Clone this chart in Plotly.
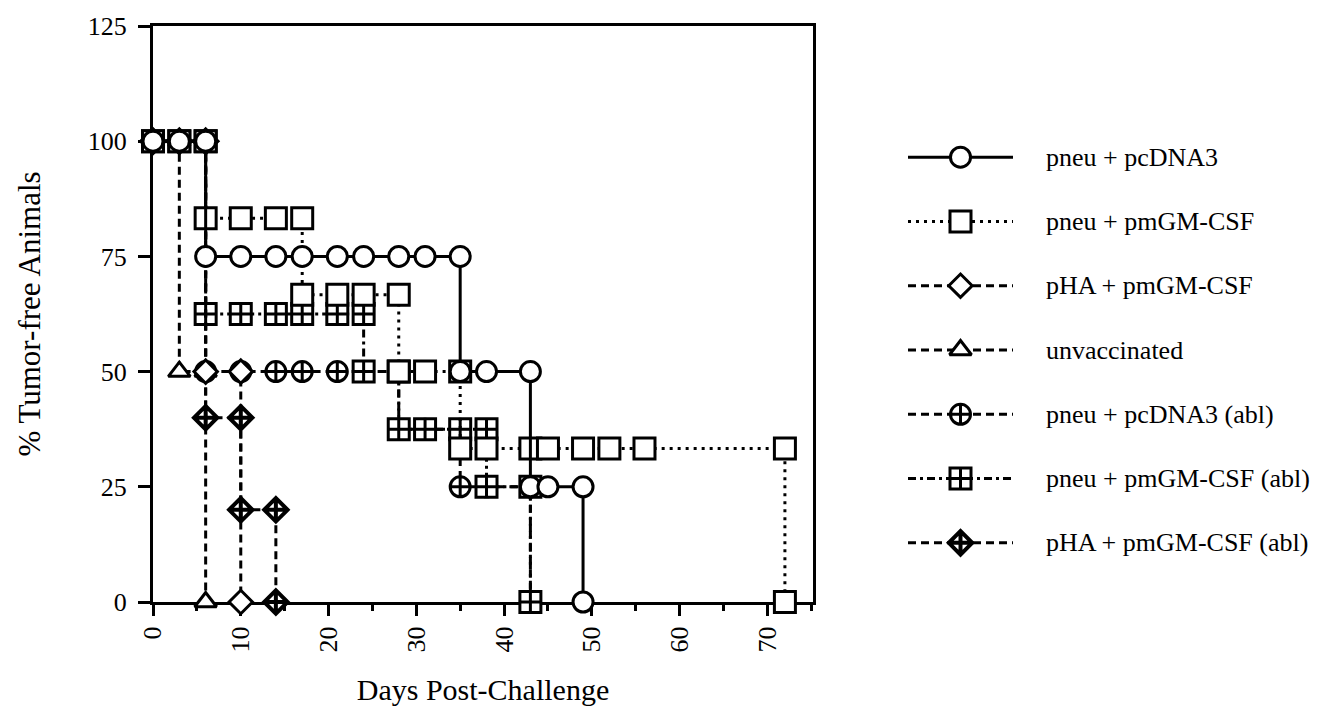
import plotly.graph_objects as go

# ---------------- data ----------------
series_names = [
    "pneu + pcDNA3",
    "pneu + pmGM-CSF",
    "pHA + pmGM-CSF",
    "unvaccinated",
    "pneu + pcDNA3 (abl)",
    "pneu + pmGM-CSF (abl)",
    "pHA + pmGM-CSF (abl)",
]

days_pcdna3 = [0, 3, 6, 6, 10, 14, 17, 21, 24, 28, 31, 35, 35, 38, 43, 43, 45, 49, 49]
pct_pcdna3 = [100, 100, 100, 75, 75, 75, 75, 75, 75, 75, 75, 75, 50, 50, 50, 25, 25, 25, 0]

days_gmcsf = [0, 3, 6, 6, 10, 14, 17, 17, 21, 24, 28, 28, 31, 35, 35, 38, 43, 45, 49, 52, 56, 72, 72]
pct_gmcsf = [100, 100, 100, 83.3, 83.3, 83.3, 83.3, 66.7, 66.7, 66.7, 66.7, 50, 50, 50,
             33.3, 33.3, 33.3, 33.3, 33.3, 33.3, 33.3, 33.3, 0]

days_pha = [0, 3, 6, 6, 10, 10]
pct_pha = [100, 100, 100, 50, 50, 0]

days_unvac = [0, 3, 3, 6, 6]
pct_unvac = [100, 100, 50, 50, 0]

days_pcdna3_abl = [0, 3, 6, 6, 10, 14, 17, 21, 24, 28, 28, 31, 35, 35, 38, 43, 43]
pct_pcdna3_abl = [100, 100, 100, 50, 50, 50, 50, 50, 50, 50, 37.5, 37.5, 37.5, 25, 25, 25, 0]

days_gmcsf_abl = [0, 3, 6, 6, 10, 14, 17, 21, 24, 24, 28, 28, 31, 35, 38, 38, 43, 43]
pct_gmcsf_abl = [100, 100, 100, 62.5, 62.5, 62.5, 62.5, 62.5, 62.5, 50, 50, 37.5, 37.5,
                 37.5, 37.5, 25, 25, 0]

days_pha_abl = [0, 3, 6, 6, 10, 10, 14, 14]
pct_pha_abl = [100, 100, 100, 40, 40, 20, 20, 0]

x_ticks = [0, 10, 20, 30, 40, 50, 60, 70]
y_ticks = [0, 25, 50, 75, 100, 125]

# ---------------- styles ----------------
W, H = 1337, 719
FONT = "Liberation Serif, Times New Roman, serif"
BLACK = "#000000"

DASH = "8px,5px"
DOT = "3px,5px"
DASHDOT = "8px,4px,3px,4px"

styles = {
    "pneu + pcDNA3": dict(symbol="circle", dash="solid", size=20, mlw=3),
    "pneu + pmGM-CSF": dict(symbol="square", dash=DOT, size=21, mlw=3),
    "pHA + pmGM-CSF": dict(symbol="diamond", dash=DASH, size=18, mlw=3),
    "unvaccinated": dict(symbol="triangle-up", dash=DASH, size=19, mlw=3),
    "pneu + pcDNA3 (abl)": dict(symbol="circle-cross", dash=DASH, size=20, mlw=3),
    "pneu + pmGM-CSF (abl)": dict(symbol="square-cross", dash=DASHDOT, size=21, mlw=3),
    "pHA + pmGM-CSF (abl)": dict(symbol="diamond-cross", dash=DASH, size=18, mlw=4),
}

data = {
    "pneu + pcDNA3": (days_pcdna3, pct_pcdna3),
    "pneu + pmGM-CSF": (days_gmcsf, pct_gmcsf),
    "pHA + pmGM-CSF": (days_pha, pct_pha),
    "unvaccinated": (days_unvac, pct_unvac),
    "pneu + pcDNA3 (abl)": (days_pcdna3_abl, pct_pcdna3_abl),
    "pneu + pmGM-CSF (abl)": (days_gmcsf_abl, pct_gmcsf_abl),
    "pHA + pmGM-CSF (abl)": (days_pha_abl, pct_pha_abl),
}

# draw order: bottom -> top
draw_order = [
    "pneu + pcDNA3 (abl)",
    "pneu + pmGM-CSF (abl)",
    "pHA + pmGM-CSF (abl)",
    "unvaccinated",
    "pHA + pmGM-CSF",
    "pneu + pmGM-CSF",
    "pneu + pcDNA3",
]

fig = go.Figure()

for name in draw_order:
    xs, ys = data[name]
    st = styles[name]
    fig.add_trace(go.Scatter(
        x=xs, y=ys, mode="lines+markers", name=name, showlegend=False,
        line=dict(color=BLACK, width=3, dash=st["dash"]),
        marker=dict(symbol=st["symbol"], size=st["size"], color="white",
                    line=dict(color=BLACK, width=st["mlw"])),
        cliponaxis=False, xaxis="x", yaxis="y",
    ))

# ---------------- custom legend (samples on a helper axis) ----------------
for i, name in enumerate(series_names):
    st = styles[name]
    fig.add_trace(go.Scatter(
        x=[0, 1], y=[i, i], mode="lines", showlegend=False, hoverinfo="skip",
        line=dict(color=BLACK, width=3, dash=st["dash"]),
        xaxis="x2", yaxis="y2", cliponaxis=False,
    ))
    fig.add_trace(go.Scatter(
        x=[0.5], y=[i], mode="markers", showlegend=False, hoverinfo="skip",
        marker=dict(symbol=st["symbol"], size=st["size"], color="white",
                    line=dict(color=BLACK, width=st["mlw"])),
        xaxis="x2", yaxis="y2", cliponaxis=False,
    ))
    fig.add_annotation(
        x=1036 / W, xref="paper", y=i, yref="y2", text=name, showarrow=False,
        xanchor="left", yanchor="middle",
        font=dict(family=FONT, size=26, color=BLACK),
    )

# ---------------- layout ----------------
x_dom = [145 / W, 805 / W]
y_dom = [1 - 594 / H, 1 - 18 / H]

fig.update_layout(
    width=W, height=H,
    margin=dict(l=0, r=0, t=0, b=0),
    paper_bgcolor="white", plot_bgcolor="white",
    font=dict(family=FONT, color=BLACK),
    showlegend=False,
    xaxis=dict(
        domain=x_dom, range=[0, 75.2], tickvals=x_ticks,
        ticktext=[str(v) for v in x_ticks], tickangle=-90,
        ticks="outside", ticklen=11, tickwidth=3, tickcolor=BLACK,
        minor=dict(dtick=5, tick0=0, ticks="outside", ticklen=6, tickwidth=3, tickcolor=BLACK),
        showline=True, linecolor=BLACK, linewidth=3, mirror=True,
        showgrid=False, zeroline=False, layer="below traces",
        tickfont=dict(family=FONT, size=26, color=BLACK),
        title=dict(text="Days Post-Challenge", standoff=28,
                   font=dict(family=FONT, size=30, color=BLACK)),
        automargin=False,
    ),
    yaxis=dict(
        domain=y_dom, range=[0, 125], tickvals=y_ticks,
        ticks="outside", ticklen=12, tickwidth=3, tickcolor=BLACK,
        ticklabelstandoff=6,
        showline=True, linecolor=BLACK, linewidth=3, mirror=True,
        showgrid=False, zeroline=False, layer="below traces",
        tickfont=dict(family=FONT, size=26, color=BLACK),
        title=dict(text="% Tumor-free Animals", standoff=38,
                   font=dict(family=FONT, size=31, color=BLACK)),
        automargin=False,
    ),
    xaxis2=dict(domain=[900 / W, 1005 / W], range=[0, 1], visible=False,
                anchor="y2", fixedrange=True),
    yaxis2=dict(domain=[1 - 567 / H, 1 - 117 / H], range=[6.5, -0.5], visible=False,
                anchor="x2", fixedrange=True),
)

fig.write_html("out.html")
